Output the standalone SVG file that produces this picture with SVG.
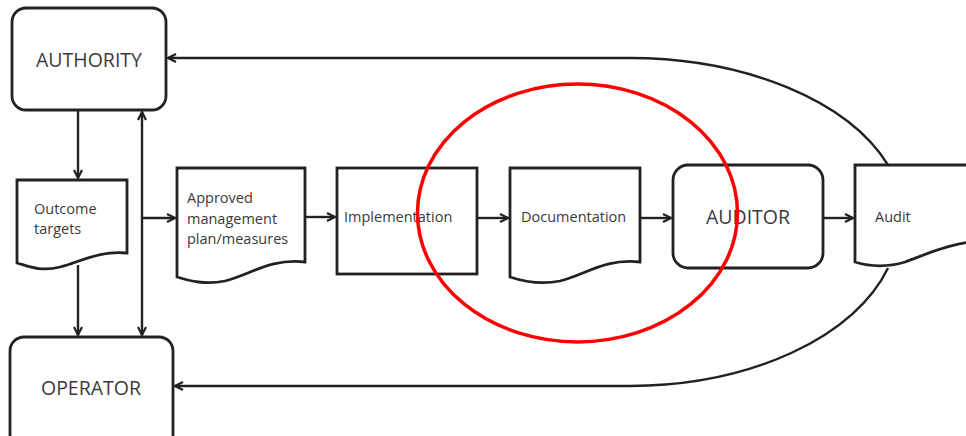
<svg xmlns="http://www.w3.org/2000/svg" width="966" height="436" viewBox="0 0 966 436">
<style>
.box{fill:#fff;stroke:#222;stroke-width:2.8}
.ln{fill:none;stroke:#222;stroke-width:2.4}
.t{font-family:"Open Sans","Liberation Sans",sans-serif;fill:#3a3a3a}
.s{font-size:14.5px}
.b{font-size:19.5px}
</style>
<defs>
<marker id="arr" viewBox="0 0 10 10" refX="9" refY="5" markerWidth="10" markerHeight="10" markerUnits="userSpaceOnUse" orient="auto-start-reverse">
<path d="M1,1 L9,5 L1,9" fill="none" stroke="#222" stroke-width="2.2"/>
</marker>
</defs>
<rect width="966" height="436" fill="#fff"/>
<g id="connectors">
<path class="ln" d="M78 110 V178" marker-end="url(#arr)"/>
<path class="ln" d="M78 265 V335" marker-end="url(#arr)"/>
<path class="ln" d="M142 112 V335" marker-start="url(#arr)" marker-end="url(#arr)"/>
<path class="ln" d="M142 218 H175" marker-end="url(#arr)"/>
<path class="ln" d="M305 217 H335" marker-end="url(#arr)"/>
<path class="ln" d="M477 218 H508" marker-end="url(#arr)"/>
<path class="ln" d="M640 218 H671" marker-end="url(#arr)"/>
<path class="ln" d="M823 218 H853" marker-end="url(#arr)"/>
<path class="ln" d="M888 165 A275 163 0 0 0 630 58 H168" marker-end="url(#arr)"/>
<path class="ln" d="M888 268 A270 164 0 0 1 630 386 H175" marker-end="url(#arr)"/>
</g>
<g id="authority">
<rect class="box" x="12" y="8" width="154" height="102" rx="14"/>
<text class="t b" x="89" y="67" text-anchor="middle">AUTHORITY</text>
</g>
<g id="operator">
<rect class="box" x="10" y="337" width="163" height="112" rx="14"/>
<text class="t b" x="91" y="395" text-anchor="middle">OPERATOR</text>
</g>
<g id="outcome">
<path class="box" d="M17 180 H127 V253 C100 250 80 262 60 267 C40 272 28 266 17 263 Z"/>
<text class="t s" x="34" y="214">Outcome</text>
<text class="t s" x="34" y="234">targets</text>
</g>
<g id="approved">
<path class="box" d="M177 168 H305 V262 C270 258 250 275 225 281 C205 285 190 281 177 277 Z"/>
<text class="t s" x="187" y="203">Approved</text>
<text class="t s" x="187" y="224">management</text>
<text class="t s" x="187" y="244">plan/measures</text>
</g>
<g id="implementation">
<rect class="box" x="337" y="168" width="140" height="106"/>
<text class="t s" x="344" y="222">Implementation</text>
</g>
<g id="documentation">
<path class="box" d="M510 168 H640 V262 C605 258 585 275 560 281 C540 285 522 281 510 277 Z"/>
<text class="t s" x="521" y="222">Documentation</text>
</g>
<g id="auditor">
<rect class="box" x="673" y="165" width="150" height="103" rx="15"/>
<text class="t b" x="748" y="224" text-anchor="middle">AUDITOR</text>
</g>
<g id="audit">
<path class="box" d="M855 165 H990 V240 C950 242 925 255 905 262 C885 268 868 266 855 262 Z"/>
<text class="t s" x="875" y="222">Audit</text>
</g>
<ellipse cx="577.5" cy="213" rx="160" ry="129" fill="none" stroke="#f00" stroke-width="3.5"/>
</svg>
